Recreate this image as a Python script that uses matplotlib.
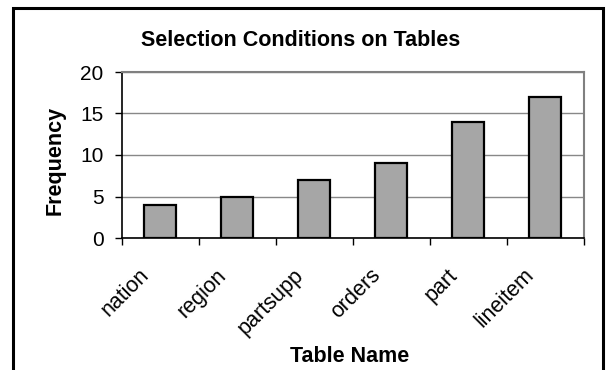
import matplotlib.pyplot as plt
from matplotlib.patches import Rectangle
from matplotlib.transforms import ScaledTranslation
import numpy as np

tables = ["nation", "region", "partsupp", "orders", "part", "lineitem"]
freq = [4, 5, 7, 9, 14, 17]

plt.rcParams["font.family"] = ["Liberation Sans", "DejaVu Sans"]

fig = plt.figure(figsize=(6.07, 3.70), dpi=100)
W, H = 607, 370
ax = fig.add_axes([121.5 / W, 1 - 238 / H, (583.5 - 121.5) / W, (238 - 72) / H])

x = np.arange(len(tables))
ax.bar(x, freq, width=0.42, color="#a6a6a6", edgecolor="black", linewidth=1.6, zorder=3)

ax.set_xlim(-0.5, len(tables) - 0.5)
ax.set_ylim(0, 20)
ax.set_yticks([0, 5, 10, 15, 20])
ax.yaxis.grid(True, color="#888888", linewidth=1, zorder=0)

# ticks on the category boundaries, names drawn as rotated text under each bar
ax.set_xticks(np.arange(len(tables) + 1) - 0.5)
ax.set_xticklabels([])
ax.tick_params(axis="x", direction="out", length=5, width=1)
ax.tick_params(axis="y", direction="out", length=5, width=1, labelsize=15, pad=8)
lab_tr = ax.get_xaxis_transform() + ScaledTranslation(-0.10, -0.38, fig.dpi_scale_trans)
for i, name in zip(x, tables):
    ax.text(i, 0, name, transform=lab_tr, rotation=45, ha="right", va="baseline",
            rotation_mode="anchor", fontsize=15.5)

for s in ["top", "right"]:
    ax.spines[s].set_color("#808080")
    ax.spines[s].set_linewidth(1.5)
for s in ["left", "bottom"]:
    ax.spines[s].set_color("black")
    ax.spines[s].set_linewidth(1.2)

fig.text(55 / W, 1 - 160 / H, "Frequency", fontsize=15.5, fontweight="bold",
         rotation=90, ha="center", va="center")
fig.text(350 / W, 1 - 356 / H, "Table Name", fontsize=15.5, fontweight="bold",
         ha="center", va="center")
fig.text(301 / W, 1 - 40 / H, "Selection Conditions on Tables", fontsize=15.5,
         fontweight="bold", ha="center", va="center")

# chart border, open at the bottom edge
fig.patches.append(Rectangle((13 / W, -0.1), (602.5 - 13) / W, 1 - 7.5 / H + 0.1,
                             transform=fig.transFigure, fill=False,
                             edgecolor="black", linewidth=2.2))

fig.savefig("out.png", dpi=100)
